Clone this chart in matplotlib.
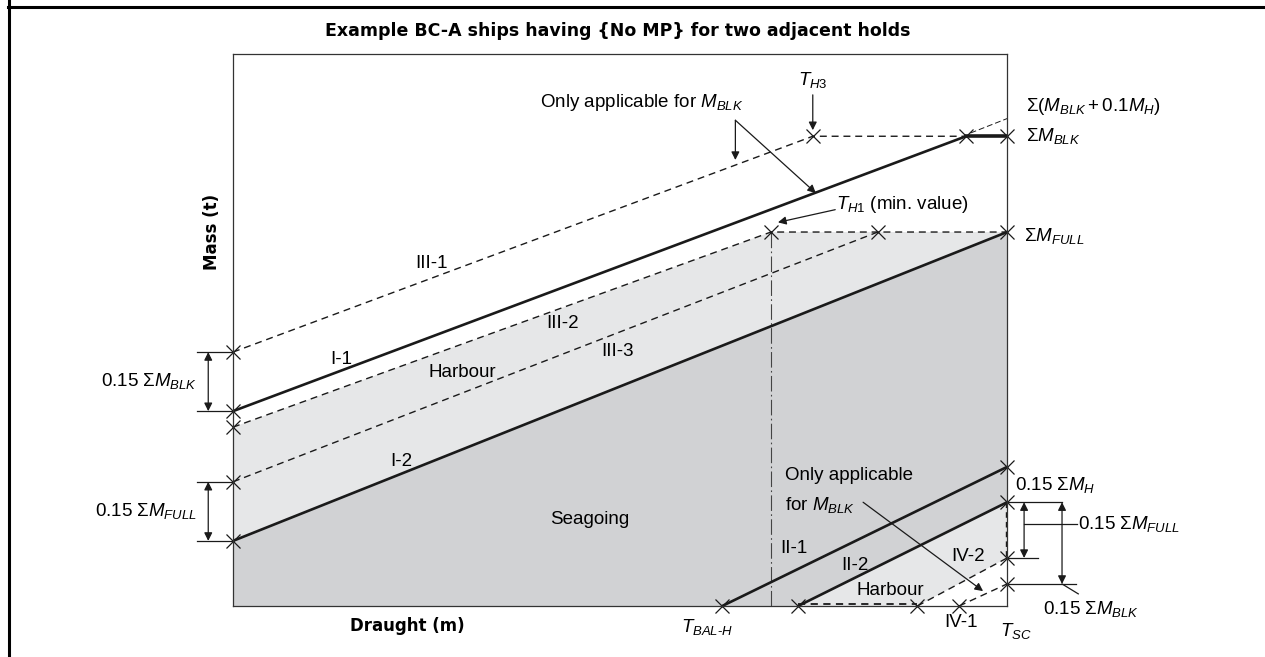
import matplotlib
matplotlib.use("Agg")
import matplotlib.pyplot as plt
from matplotlib.lines import Line2D
from matplotlib.patches import Polygon

plt.rcParams['font.family'] = ['Liberation Sans', 'DejaVu Sans']
plt.rcParams['mathtext.fontset'] = 'custom'
plt.rcParams['mathtext.rm'] = 'Liberation Sans'
plt.rcParams['mathtext.it'] = 'Liberation Sans:italic'
plt.rcParams['mathtext.bf'] = 'Liberation Sans:bold'

# ---- reference levels (relative units: draught 0-100, mass 0-100) ----
m_blk = 85.1          # sum M_BLK
m_blk_h = 88.9        # sum (M_BLK + 0.1 M_H)
m_full = 67.75        # sum M_FULL

t_h3 = 74.9           # T_H3
t_blk_end = 94.7      # end of I-1
t_h1 = 69.5           # T_H1 (min. value)
t_iii3_end = 83.3     # end of III-3
t_bal_h = 63.2        # T_BAL-H
t_ii2_start = 73.0    # start of II-2
t_iv2_start = 88.4    # start of IV-2
t_iv1_start = 93.8    # start of IV-1
t_sc = 100.0          # T_SC (scantling draught)

# ---- curves (draught, mass) ----
I1_draught = [0.0, t_blk_end]
I1_mass = [35.3, m_blk]
I2_draught = [0.0, t_sc]
I2_mass = [11.8, m_full]
III1_draught = [0.0, t_h3, t_blk_end]
III1_mass = [46.0, m_blk, m_blk]
III2_draught = [0.0, t_h1, t_sc]
III2_mass = [32.4, m_full, m_full]
III3_draught = [0.0, t_iii3_end]
III3_mass = [22.5, m_full]
II1_draught = [t_bal_h, t_sc]
II1_mass = [0.0, 25.2]
II2_draught = [t_ii2_start, t_sc]
II2_mass = [0.0, 18.8]
IV2_draught = [t_iv2_start, t_sc]
IV2_mass = [0.0, 8.7]
IV1_draught = [t_iv1_start, t_sc]
IV1_mass = [0.0, 4.0]

BLACK = '#1a1a1a'
LIGHT = '#e6e7e8'
DARK = '#d1d2d4'

fig = plt.figure(figsize=(12.65, 6.57), dpi=100)
ax = fig.add_axes([0.1842, 0.0776, 0.6119, 0.8402])
ax.set_xlim(0, 100)
ax.set_ylim(0, 100)
ax.set_xticks([])
ax.set_yticks([])
for s in ax.spines.values():
    s.set_linewidth(0.9)
    s.set_color('#333333')
    s.set_zorder(6)

# ---- filled zones ----
harbour_band = [(III2_draught[0], III2_mass[0]), (t_h1, m_full), (t_sc, m_full),
                (I2_draught[0], I2_mass[0])]
seagoing = [(I2_draught[0], I2_mass[0]), (I2_draught[1], I2_mass[1]),
            (II2_draught[1], II2_mass[1]), (II2_draught[0], II2_mass[0]), (0, 0)]
harbour_low = [(II2_draught[0], II2_mass[0]), (II2_draught[1], II2_mass[1]),
               (IV2_draught[1], IV2_mass[1]), (IV2_draught[0], IV2_mass[0])]
ax.add_patch(Polygon(harbour_band, closed=True, fc=LIGHT, ec='none', zorder=0))
ax.add_patch(Polygon(seagoing, closed=True, fc=DARK, ec='none', zorder=0))
ax.add_patch(Polygon(harbour_low, closed=True, fc=LIGHT, ec='none', zorder=0))

# ---- lines ----
solid = dict(color=BLACK, lw=1.9, solid_capstyle='butt', zorder=3)
dashed = dict(color=BLACK, lw=1.0, dashes=(5, 3.5), zorder=3)
ax.plot(I1_draught, I1_mass, **solid)
ax.plot([t_blk_end, t_sc], [m_blk, m_blk], color=BLACK, lw=2.6, zorder=3)
ax.plot(I2_draught, I2_mass, **solid)
ax.plot(II1_draught, II1_mass, **solid)
ax.plot(II2_draught, II2_mass, **solid)
ax.plot(III1_draught, III1_mass, **dashed)
ax.plot(III2_draught, III2_mass, **dashed)
ax.plot(III3_draught, III3_mass, **dashed)
ax.plot(IV2_draught, IV2_mass, **dashed)
ax.plot(IV1_draught, IV1_mass, **dashed)
ax.plot([t_ii2_start, t_iv2_start], [0.35, 0.35], color=BLACK, lw=1.3,
        dashes=(4, 3), zorder=3)
ax.plot([99.8, 99.8], [II2_mass[1], IV2_mass[1]], color=BLACK, lw=1.0,
        dashes=(4, 3), zorder=3)
# T_H1 vertical
ax.plot([t_h1, t_h1], [0, m_full], color='#444444', lw=0.8,
        dashes=(14, 3, 1.5, 3), zorder=2)
# leader towards sum(M_BLK + 0.1 M_H)
ax.plot([t_blk_end + 0.6, t_sc], [m_blk + 0.6, m_blk_h - 0.6], color=BLACK, lw=0.7,
        dashes=(6, 3), zorder=3)

# ---- crosses ----
cross_d = [0, 0, 0, 0, 0, t_h3, t_blk_end, t_sc, t_h1, t_iii3_end, t_sc,
           t_bal_h, t_ii2_start, t_iv2_start, t_iv1_start, t_sc, t_sc, t_sc, t_sc]
cross_m = [III1_mass[0], I1_mass[0], III2_mass[0], III3_mass[0], I2_mass[0],
           m_blk, m_blk, m_blk, m_full, m_full, m_full,
           0, 0, 0, 0, II1_mass[1], II2_mass[1], IV2_mass[1], IV1_mass[1]]
ax.plot(cross_d, cross_m, ls='none', marker='x', ms=10.5, mew=0.9, color=BLACK,
        clip_on=False, zorder=5)


def arrow(tip, start, style='-|>', lw=0.9):
    ax.annotate('', xy=tip, xytext=start, annotation_clip=False,
                arrowprops=dict(arrowstyle=style, lw=lw, color=BLACK,
                                mutation_scale=12, shrinkA=0, shrinkB=0))


def hline(x0, x1, y, lw=0.9):
    ax.plot([x0, x1], [y, y], color=BLACK, lw=lw, clip_on=False, zorder=3)


FS = 13.5

# ---- left dimensions ----
hline(-4.7, 0, III1_mass[0])
hline(-4.7, 0, I1_mass[0])
arrow((-3.2, III1_mass[0]), (-3.2, I1_mass[0]), style='<|-|>')
hline(-4.7, 0, III3_mass[0])
hline(-4.7, 0, I2_mass[0])
arrow((-3.2, III3_mass[0]), (-3.2, I2_mass[0]), style='<|-|>')
ax.text(-4.6, 40.8, r'0.15 $\Sigma M_{BLK}$', ha='right', va='center', fontsize=FS)
ax.text(-4.6, 17.2, r'0.15 $\Sigma M_{FULL}$', ha='right', va='center', fontsize=FS)

# ---- right dimensions ----
hline(100, 107.1, II2_mass[1])
hline(100, 104.0, IV2_mass[1])
hline(100, 108.9, IV1_mass[1])
arrow((102.2, II2_mass[1]), (102.2, IV2_mass[1]), style='<|-|>')
arrow((107.1, II2_mass[1]), (107.1, IV1_mass[1]), style='<|-|>')
hline(102.2, 109.0, 14.9)
ax.plot([107.1, 109.2], [IV1_mass[1], 2.2], color=BLACK, lw=0.9, clip_on=False)
ax.text(109.1, 14.9, r'0.15 $\Sigma M_{FULL}$', ha='left', va='center', fontsize=FS)
ax.text(104.6, -0.6, r'0.15 $\Sigma M_{BLK}$', ha='left', va='center', fontsize=FS)
ax.text(101.0, 22.0, r'0.15 $\Sigma M_H$', ha='left', va='center', fontsize=FS)

# ---- right-hand level labels ----
ax.text(102.4, 90.5, r'$\Sigma(M_{BLK} + \mathit{0.1}M_H)$', ha='left', va='center', fontsize=FS)
ax.text(102.4, m_blk, r'$\Sigma M_{BLK}$', ha='left', va='center', fontsize=FS)
ax.text(102.2, m_full - 0.8, r'$\Sigma M_{FULL}$', ha='left', va='center', fontsize=FS)

# ---- top annotations ----
ax.text(65.9, 91.3, r'Only applicable for $M_{BLK}$', ha='right', va='center', fontsize=FS)
arrow((64.9, 80.8), (64.9, 88.0))
arrow((75.3, 74.8), (64.9, 88.0))
ax.text(t_h3, 95.3, r'$T_{\mathit{H3}}$', ha='center', va='center', fontsize=FS)
arrow((t_h3, 86.2), (t_h3, 92.6))
ax.text(77.9, 72.8, r'$T_{\mathit{H1}}$ (min. value)', ha='left', va='center', fontsize=FS)
arrow((70.4, 69.5), (77.8, 71.8))

# ---- bottom annotations ----
ax.text(71.3, 23.6, 'Only applicable', ha='left', va='center', fontsize=FS)
ax.text(71.3, 18.3, r'for $M_{BLK}$', ha='left', va='center', fontsize=FS)
arrow((96.9, 2.7), (81.4, 18.8))
ax.text(t_bal_h - 2.0, -3.8, r'$T_{\mathit{BAL}\text{-}\mathit{H}}$', ha='center', va='center', fontsize=FS)
ax.text(101.2, -4.6, r'$T_{\mathit{SC}}$', ha='center', va='center', fontsize=FS)

# ---- curve labels ----
labels = [('III-1', 25.6, 62.1), ('I-1', 14.0, 44.6), ('III-2', 42.6, 51.2),
          ('III-3', 49.7, 46.1), ('Harbour', 29.6, 42.3), ('I-2', 21.8, 26.1),
          ('Seagoing', 46.1, 15.6), ('II-1', 72.4, 10.5), ('II-2', 80.4, 7.4),
          ('IV-2', 95.0, 8.9), ('Harbour', 84.9, 2.9), ('IV-1', 94.1, -3.0)]
for txt, x, y in labels:
    ax.text(x, y, txt, ha='center', va='center', fontsize=FS, zorder=4)

# ---- axis titles ----
ax.text(22.5, -3.6, 'Draught (m)', ha='center', va='center', fontsize=12,
        fontweight='bold', family='DejaVu Sans')
ax.text(-2.7, 67.8, 'Mass (t)', ha='center', va='center', rotation=90,
        fontsize=12, fontweight='bold', family='DejaVu Sans')
fig.text(0.488, 0.953, 'Example BC-A ships having {No MP} for two adjacent holds',
         ha='center', va='center', fontsize=12.5, fontweight='bold',
         family='DejaVu Sans')

# ---- page frame ----
fig.add_artist(Line2D([0.0063, 1.0], [0.9893, 0.9893], transform=fig.transFigure,
                      color='black', lw=2.2))
fig.add_artist(Line2D([0.0071, 0.0071], [0.0, 1.0], transform=fig.transFigure,
                      color='black', lw=2.2))

fig.savefig('out.png', dpi=100)
